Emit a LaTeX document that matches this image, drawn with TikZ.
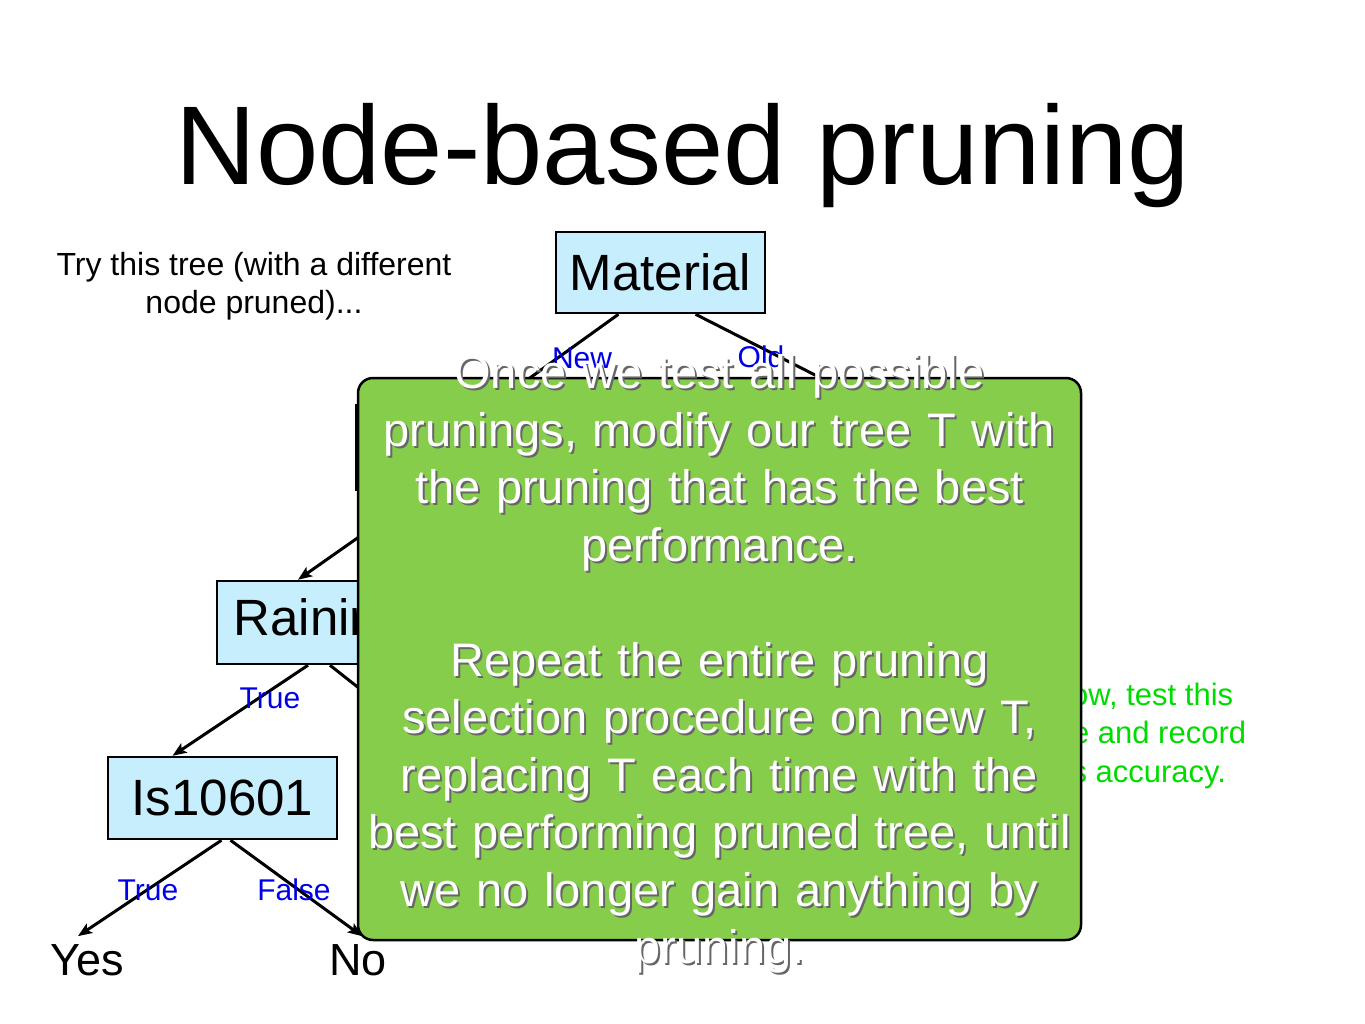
\documentclass[tikz,border=0pt]{standalone}
\usepackage{fontspec}
\setmainfont{Liberation Sans}
\usetikzlibrary{arrows.meta}

\definecolor{boxblue}{RGB}{198,238,252}
\definecolor{notegreen}{RGB}{134,205,76}
\definecolor{labelblue}{RGB}{0,0,230}
\definecolor{hintgreen}{RGB}{0,220,0}

\newcommand{\fsz}[2]{\fontsize{#1}{#2}\selectfont}

\begin{document}
\begin{tikzpicture}[x=1pt, y=1pt,
  treebox/.style={draw, line width=2.5pt, fill=boxblue, font=\fsz{51}{60}, inner sep=0pt},
  branch/.style={line width=3pt, -{Stealth[length=14pt,width=11pt,inset=3pt]}},
  brlabel/.style={text=labelblue, font=\fsz{30}{36}, inner sep=0pt}]

  % page size (one unit = one pixel of the slide)
  \def\W{1365}
  \def\H{1024}
  \fill[white] (0,0) rectangle (\W,-\H);
  \useasboundingbox (0,0) rectangle (\W,-\H);

  % title
  \node[anchor=base, inner sep=0pt, font=\fsz{112}{134}] (title) at (683,-185) {Node-based pruning};

  % comment on the left
  \node[align=center, inner sep=0pt, font=\fsz{32}{38}] (try) at (254,-286)
    {Try this tree (with a different\\node pruned)...};

  % tree nodes
  \node[treebox, minimum width=209, minimum height=81] (mat) at (660.5,-272.5) {Material};
  \node[treebox, minimum width=276, minimum height=85] (hid) at (494,-447.5) {};
  \node[treebox, minimum width=200, minimum height=83] (rain) at (317,-622.5) {\hspace{6pt}Raining};
  \node[treebox, minimum width=229, minimum height=82] (isn) at (222.5,-798) {Is10601};
  \node[inner sep=8pt, font=\fsz{45}{52}] (yes) at (87,-960) {Yes};
  \node[inner sep=8pt, font=\fsz{45}{52}] (no) at (358,-960) {No};

  % ends of branches that run behind the note
  \coordinate (oldend) at (874,-405);
  \coordinate (rainR) at (440,-752);

  % branches
  \draw[branch] ([xshift=-42pt]mat.south) -- (hid.north);
  \draw[branch] ([xshift=35pt]mat.south) -- (oldend);
  \draw[branch] ([xshift=-70pt]hid.south) -- ([xshift=-19pt]rain.north);
  \draw[branch] ([xshift=13pt]rain.south) -- (rainR);
  \draw[branch] ([xshift=-9pt]rain.south) -- ([xshift=-50pt]isn.north);
  \draw[branch] ([xshift=-1pt]isn.south) -- ([xshift=-9pt]yes.north);
  \draw[branch] ([xshift=8pt]isn.south) -- ([xshift=4pt]no.north);

  % branch labels
  \node[brlabel] (lnew) at (582,-358) {New};
  \node[brlabel] (lold) at (761,-357) {Old};
  \node[brlabel] (ltrue) at (270,-698) {True};
  \node[brlabel] (ltrueb) at (148,-890) {True};
  \node[brlabel] (lfalse) at (294,-890) {False};

  % green hint, mostly covered by the note
  \node[align=center, inner sep=0pt, text=hintgreen, font=\fsz{31}{38.5}] (hint) at (1141,-735.5)
    {Now, test this\\tree and record\\its accuracy.};

  % the note on top
  \node[draw, line width=2.5pt, fill=notegreen, rounded corners=15pt,
        minimum width=723, minimum height=562] (note) at (719.5,-659) {};
  \def\notetext{Once we test all possible\\prunings, modify our tree T with\\the pruning that has the best\\performance.\\[57.5pt]Repeat the entire pruning\\selection procedure on new T,\\replacing T each time with the\\best performing pruned tree, until\\we no longer gain anything by\\pruning.}
  \node[align=center, text width=780, inner sep=0pt, font=\fsz{47}{57.5}, text=black!60] (noteshadow) at (721.5,-666) {\notetext};
  \node[align=center, text width=780, inner sep=0pt, font=\fsz{47}{57.5}, text=white] (notetext) at (719.5,-664) {\notetext};
\end{tikzpicture}
\end{document}
